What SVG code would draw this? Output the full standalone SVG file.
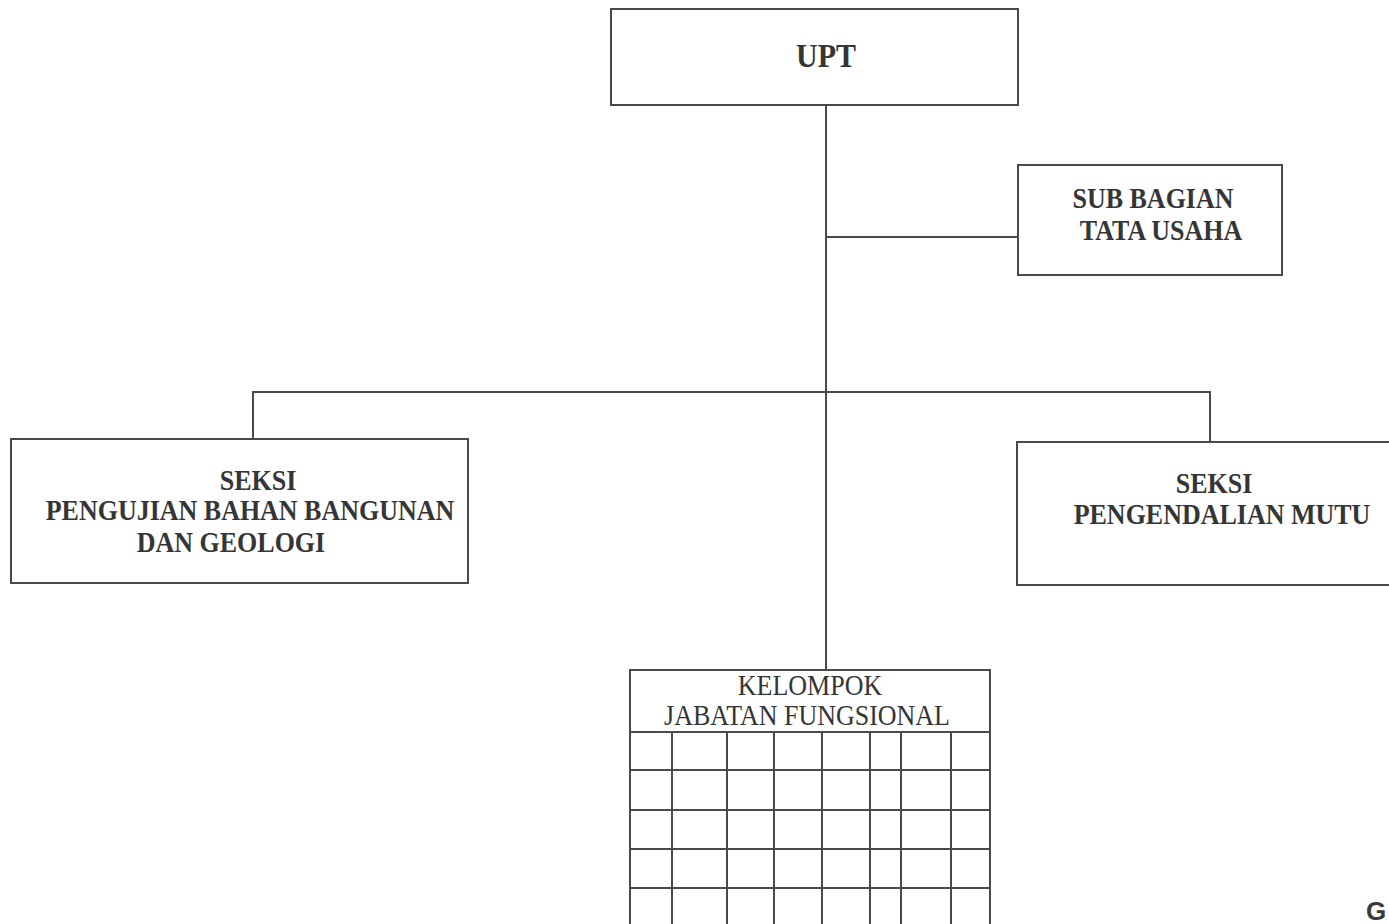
<svg xmlns="http://www.w3.org/2000/svg" width="1389" height="924" viewBox="0 0 1389 924">
<style>
.box{fill:#fff;stroke:#4a4a4a;stroke-width:2}
.ln{fill:none;stroke:#4a4a4a;stroke-width:2}
.t{font-family:"Liberation Serif","Times New Roman",serif;font-size:26px;fill:#353535;text-anchor:middle}
.b{font-weight:bold}
</style>
<rect width="1389" height="924" fill="#fff"/>
<g id="connectors">
<line class="ln" x1="826" y1="105" x2="826" y2="670"/>
<line class="ln" x1="826" y1="237" x2="1018" y2="237"/>
<polyline class="ln" points="253,439 253,392 1210,392 1210,442"/>
</g>
<g id="upt">
<rect class="box" x="611" y="9" width="407" height="96"/>
<text class="t b" x="826" y="67" style="font-size:30px" transform="matrix(1 0 0 1.14 0 -9.38)">UPT</text>
</g>
<g id="subbagian">
<rect class="box" x="1018" y="165" width="264" height="110"/>
<text class="t b" x="1153" y="208" transform="matrix(1 0 0 1.14 0 -29.12)">SUB BAGIAN</text>
<text class="t b" x="1161" y="240" transform="matrix(1 0 0 1.14 0 -33.6)">TATA USAHA</text>
</g>
<g id="seksi-pengujian">
<rect class="box" x="11" y="439" width="457" height="144"/>
<text class="t b" x="258" y="490" transform="matrix(1 0 0 1.14 0 -68.6)">SEKSI</text>
<text class="t b" x="250" y="520" transform="matrix(1 0 0 1.14 0 -72.8)">PENGUJIAN BAHAN BANGUNAN</text>
<text class="t b" x="231" y="552" transform="matrix(1 0 0 1.14 0 -77.28)">DAN GEOLOGI</text>
</g>
<g id="seksi-mutu">
<rect class="box" x="1017" y="442" width="380" height="143"/>
<text class="t b" x="1214" y="493" transform="matrix(1 0 0 1.14 0 -69.02)">SEKSI</text>
<text class="t b" x="1222" y="524" transform="matrix(1 0 0 1.14 0 -73.36)">PENGENDALIAN MUTU</text>
</g>
<g id="kelompok">
<rect class="box" x="630" y="670" width="360" height="264"/>
<text class="t" x="810" y="695" transform="matrix(1 0 0 1.14 0 -97.3)">KELOMPOK</text>
<text class="t" x="807" y="725" transform="matrix(1 0 0 1.14 0 -101.5)">JABATAN FUNGSIONAL</text>
<path class="ln" d="M630 732H990M630 770H990M630 810H990M630 849H990M630 888H990M672 732V934M727 732V934M774 732V934M822 732V934M870 732V934M901 732V934M951 732V934"/>
</g>
<text x="1366" y="920" style="font-family:'Liberation Sans',Arial,sans-serif;font-weight:bold;font-size:26px;fill:#3a3a3a">G</text>
</svg>
